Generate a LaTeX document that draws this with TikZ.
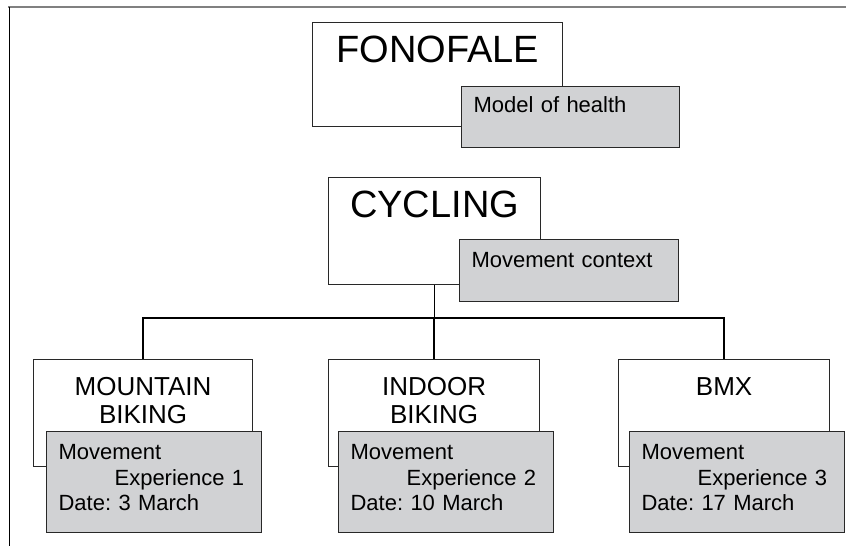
\documentclass[tikz,border=0pt]{standalone}
\usepackage{fontspec}
\setmainfont{Liberation Sans}
\usetikzlibrary{positioning, calc}
\frenchspacing

\definecolor{boxgray}{RGB}{209,210,212}
\definecolor{boxline}{RGB}{40,40,40}

\tikzset{
    mainbox/.style={draw=boxline, fill=white, line width=1.2pt, anchor=north west,
        inner sep=0pt, align=center, font=\fontsize{38}{40}\selectfont},
    subbox/.style={mainbox, font=\fontsize{26}{28}\selectfont},
    notebox/.style={draw=boxline, fill=boxgray, line width=1.2pt, anchor=north west,
        inner xsep=12pt, inner ysep=0pt, align=left, font=\fontsize{22}{25.5}\selectfont},
    link/.style={line width=1.5pt, black}
}

\begin{document}
\begin{tikzpicture}[x=1pt, y=-1pt]

        \useasboundingbox (0,0) rectangle (846,546);

        %FRAME
        \draw[gray, line width=2pt] (8,7) -- (846,7);
        \draw[line width=1pt] (9,7) -- (9,546);

        % FONOFALE
        \node[mainbox, text width=250pt, text height=40pt, text depth=64pt] (fonofale) at (312,22) {FONOFALE};
        \node[notebox, text width=194pt, text height=26pt, text depth=35pt] (health) at ($(fonofale.north west) + (149,64)$) {Model of health};

        % CYCLING
        \node[mainbox, text width=212pt, text height=40pt, text depth=67pt] (cycling) at (328,177) {CYCLING};
        \node[notebox, text width=195pt, text height=28pt, text depth=34pt] (context) at ($(cycling.north west) + (131,62)$) {Movement context};

        % CHILDREN (WHITE BOX, GREY NOTE ON TOP)
        \node[subbox, text width=219pt, text height=36pt, text depth=71pt] (mountain) at (33,359) {MOUNTAIN\\BIKING};
        \node[notebox, text width=191pt, text height=28pt, text depth=73pt] (exp1) at ($(mountain.north west) + (13,72)$)
            {Movement\\\hspace*{56pt}Experience 1\\Date: 3 March};

        \node[subbox, text width=211pt, text height=36pt, text depth=71pt] (indoor) at (328,359) {INDOOR\\BIKING};
        \node[notebox, text width=191pt, text height=28pt, text depth=73pt] (exp2) at ($(indoor.north west) + (10,72)$)
            {Movement\\\hspace*{56pt}Experience 2\\Date: 10 March};

        \node[subbox, text width=211pt, text height=36pt, text depth=71pt] (bmx) at (618,359) {BMX};
        \node[notebox, text width=191pt, text height=28pt, text depth=73pt] (exp3) at ($(bmx.north west) + (11,72)$)
            {Movement\\\hspace*{56pt}Experience 3\\Date: 17 March};

        % TREE LINES
        \coordinate (bus) at (0,318);
        \draw[link] (cycling.south) -- (cycling.south |- bus);
        \draw[link] (mountain.north) -- (mountain.north |- bus) -- (bmx.north |- bus) -- (bmx.north);
        \draw[link] (indoor.north) -- (indoor.north |- bus);

    \end{tikzpicture}
\end{document}
